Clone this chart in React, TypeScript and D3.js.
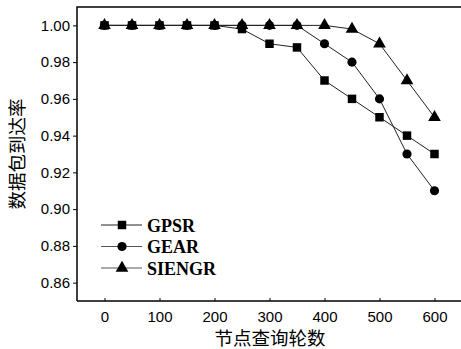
import React, { useEffect, useRef } from 'react';
import * as d3 from 'd3';

const rounds = [0, 50, 100, 150, 200, 250, 300, 350, 400, 450, 500, 550, 600];
const gpsr = [1, 1, 1, 1, 1, 0.998, 0.99, 0.988, 0.97, 0.96, 0.95, 0.94, 0.93];
const gear = [1, 1, 1, 1, 1, 1, 1, 1, 0.99, 0.98, 0.96, 0.93, 0.91];
const siengr = [1, 1, 1, 1, 1, 1, 1, 1, 1, 0.998, 0.99, 0.97, 0.95];
const xTicks = [0, 100, 200, 300, 400, 500, 600];
const yTicks = [0.86, 0.88, 0.9, 0.92, 0.94, 0.96, 0.98, 1.0];

const series = [
  { name: 'GPSR', values: gpsr, shape: 'square' },
  { name: 'GEAR', values: gear, shape: 'circle' },
  { name: 'SIENGR', values: siengr, shape: 'triangle' },
];

const W = 461;
const H = 349;
const m = { left: 77, top: 7, right: 462, bottom: 301 };

const App = () => {
  const svgRef = useRef<SVGSVGElement>(null);

  useEffect(() => {
    const svg = d3.select(svgRef.current);
    svg.selectAll('*').remove();

    const x = d3.scaleLinear().domain([-50, 650]).range([m.left, m.right]);
    const y = d3.scaleLinear().domain([0.85, 1.01]).range([m.bottom, m.top]);

    const symbolFor = (shape: string) => {
      if (shape === 'square') return d3.symbol().type(d3.symbolSquare).size(72);
      if (shape === 'circle') return d3.symbol().type(d3.symbolCircle).size(66);
      return d3.symbol().type(d3.symbolTriangle).size(70);
    };

    // frame
    svg.append('path')
      .attr('d', `M${m.left},${m.bottom}V${m.top}H${m.right}`)
      .attr('fill', 'none')
      .attr('stroke', '#000')
      .attr('stroke-width', 1.5);
    svg.append('line')
      .attr('x1', m.left).attr('x2', m.right)
      .attr('y1', m.bottom).attr('y2', m.bottom)
      .attr('stroke', '#000').attr('stroke-width', 1.5);

    // y axis
    const yAxis = svg.append('g')
      .attr('transform', `translate(${m.left},0)`)
      .call(d3.axisLeft(y).tickValues(yTicks).tickFormat(d3.format('.2f')).tickSize(4).tickPadding(3));
    yAxis.select('.domain').remove();
    yAxis.selectAll('text')
      .style('font-family', 'Liberation Sans, Arial, sans-serif')
      .style('font-size', '15px')
      .attr('fill', '#000');

    // x axis
    const xAxis = svg.append('g')
      .attr('transform', `translate(0,${m.bottom})`)
      .call(d3.axisBottom(x).tickValues(xTicks).tickSize(-3).tickPadding(10));
    xAxis.select('.domain').remove();
    xAxis.selectAll('text')
      .style('font-family', 'Liberation Sans, Arial, sans-serif')
      .style('font-size', '15px')
      .attr('fill', '#000');

    // lines and markers
    const line = d3.line<number>()
      .x((_, i) => x(rounds[i]))
      .y(d => y(d));

    series.forEach(s => {
      svg.append('path')
        .datum(s.values)
        .attr('d', line)
        .attr('fill', 'none')
        .attr('stroke', '#222')
        .attr('stroke-width', 1);
    });

    series.forEach(s => {
      svg.selectAll(null)
        .data(s.values)
        .enter()
        .append('path')
        .attr('d', symbolFor(s.shape))
        .attr('transform', (d, i) => `translate(${x(rounds[i])},${y(d)})`)
        .attr('fill', '#000');
    });

    // legend
    const legend = svg.append('g');
    series.forEach((s, i) => {
      const ly = 225 + i * 21.5;
      legend.append('line')
        .attr('x1', 101).attr('x2', 142)
        .attr('y1', ly).attr('y2', ly)
        .attr('stroke', i === 0 ? '#222' : '#555')
        .attr('stroke-width', 1);
      legend.append('path')
        .attr('d', symbolFor(s.shape))
        .attr('transform', `translate(122,${ly})`)
        .attr('fill', '#000');
      legend.append('text')
        .attr('x', 147)
        .attr('y', ly + 6.5)
        .style('font-family', 'Liberation Serif, Times New Roman, serif')
        .style('font-weight', 'bold')
        .style('font-size', '18px')
        .text(s.name);
    });

    // axis titles
    svg.append('text')
      .attr('x', 270)
      .attr('y', 345)
      .attr('text-anchor', 'middle')
      .style('font-family', 'Noto Sans CJK SC')
      .style('font-size', '18.5px')
      .text('节点查询轮数');

    svg.append('text')
      .attr('transform', `translate(24,154) rotate(-90)`)
      .attr('text-anchor', 'middle')
      .style('font-family', 'Noto Sans CJK SC')
      .style('font-size', '18.5px')
      .text('数据包到达率');
  }, []);

  return (
    <svg
      ref={svgRef}
      width={W}
      height={H}
      style={{ position: 'absolute', left: 0, top: 0, background: '#fff' }}
    />
  );
};

export default App;
